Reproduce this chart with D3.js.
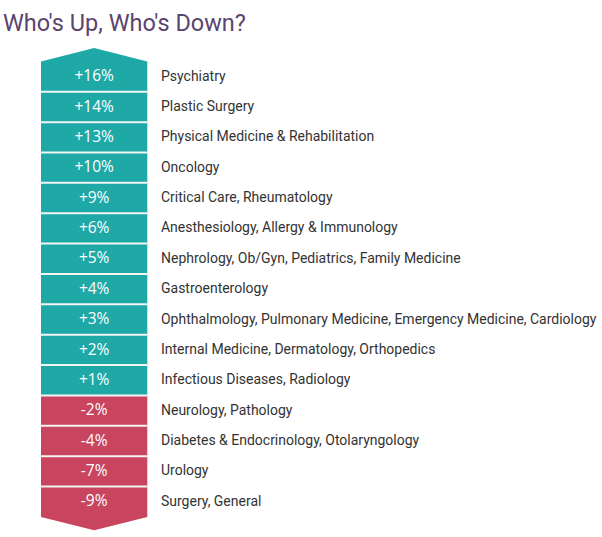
<!DOCTYPE html>
<html><head><meta charset="utf-8">
<script src="https://cdn.jsdelivr.net/npm/d3@7"></script>
<style>html,body{margin:0;padding:0;background:#fff;}svg{display:block;}</style>
</head><body>
<svg id="chart" width="602" height="537"></svg>
<script>
const title = "Who's Up, Who's Down?";
const values = [16, 14, 13, 10, 9, 6, 5, 4, 3, 2, 1, -2, -4, -7, -9];
const labels = [
  "Psychiatry",
  "Plastic Surgery",
  "Physical Medicine & Rehabilitation",
  "Oncology",
  "Critical Care, Rheumatology",
  "Anesthesiology, Allergy & Immunology",
  "Nephrology, Ob/Gyn, Pediatrics, Family Medicine",
  "Gastroenterology",
  "Ophthalmology, Pulmonary Medicine, Emergency Medicine, Cardiology",
  "Internal Medicine, Dermatology, Orthopedics",
  "Infectious Diseases, Radiology",
  "Neurology, Pathology",
  "Diabetes & Endocrinology, Otolaryngology",
  "Urology",
  "Surgery, General"
];

const svg = d3.select("#chart");
const upColor = "#1ea9a7", downColor = "#c8445f";
const x0 = 41, x1 = 147.3, xc = (x0 + x1) / 2;
const tip = 13.3;
const y = d3.scaleBand().domain(d3.range(values.length)).range([61.4, 516.9]).padding(0);
const h = y.bandwidth();
const n = values.length;

// rows
svg.append("g").selectAll("path").data(values).join("path")
  .attr("d", (v, i) => {
    const t = y(i), b = t + h;
    if (i === 0) return `M${x0},${b}L${x0},${t}L${xc},${t - tip}L${x1},${t}L${x1},${b}Z`;
    if (i === n - 1) return `M${x0},${t}L${x1},${t}L${x1},${b}L${xc},${b + tip}L${x0},${b}Z`;
    return `M${x0},${t}L${x1},${t}L${x1},${b}L${x0},${b}Z`;
  })
  .attr("fill", v => v >= 0 ? upColor : downColor);

// separators
svg.append("g").selectAll("line").data(d3.range(1, n)).join("line")
  .attr("x1", x0).attr("x2", x1)
  .attr("y1", i => y(i)).attr("y2", i => y(i))
  .attr("stroke", "#f4f4f4").attr("stroke-width", 2);

// value texts
svg.append("g").selectAll("text").data(values).join("text")
  .attr("x", xc).attr("y", (v, i) => y(i) + h / 2 + 4.7)
  .attr("text-anchor", "middle")
  .attr("font-family", "'Open Sans'").attr("font-size", 15.5)
  .attr("fill", "#fff")
  .text(v => (v > 0 ? "+" : "") + v + "%");

// labels (condensed look via horizontal scaling)
const lg = svg.append("g");
const lt = lg.selectAll("text").data(labels).join("text")
  .attr("x", 0).attr("y", 0)
  .attr("font-family", "Roboto").attr("font-size", 15.5)
  .attr("fill", "#333")
  .text(d => d);
let maxW = 0;
lt.each(function () { maxW = Math.max(maxW, this.getComputedTextLength()); });
const sx = 436 / maxW;
lt.attr("transform", (d, i) => `translate(161,${y(i) + h / 2 + 4}) scale(${sx},1)`);

// title
const tt = svg.append("text")
  .attr("font-family", "Roboto").attr("font-size", 24.5)
  .attr("fill", "#5b4470")
  .text(title);
const tw = tt.node().getComputedTextLength();
tt.attr("transform", `translate(3,30.7) scale(${243 / tw},1)`);
</script>
</body></html>
